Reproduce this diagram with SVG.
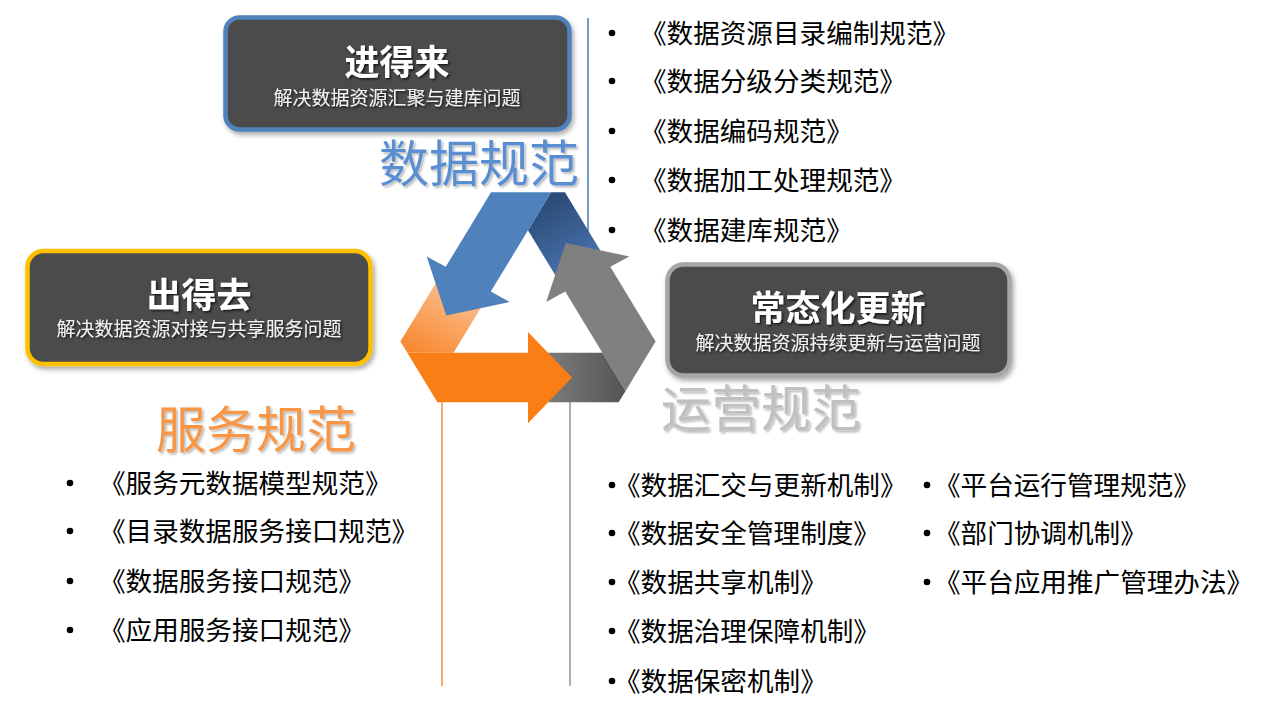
<svg xmlns="http://www.w3.org/2000/svg" width="1280" height="714" viewBox="0 0 1280 714">
  <defs>
    <style>
      .cjk { font-family: 'Noto Sans CJK SC', 'Noto Sans', sans-serif; }
      .box { fill: #4B4B4B; stroke-width: 4.5; }
      .title { font-size: 35px; font-weight: bold; fill: #FFFFFF; text-anchor: middle; }
      .sub { font-size: 19px; fill: #F2F2F2; text-anchor: middle; }
      .big { font-size: 50px; text-anchor: middle; }
      .item { font-size: 26.6px; fill: #000000; }
      .bullet { fill: #000000; }
    </style>
    <filter id="boxShadow" x="-10%" y="-15%" width="125%" height="140%">
      <feDropShadow dx="2" dy="3" stdDeviation="2.5" flood-color="#000" flood-opacity="0.35"/>
    </filter>
    <filter id="txtShadow" x="-10%" y="-30%" width="120%" height="160%">
      <feDropShadow dx="1.5" dy="1.5" stdDeviation="1" flood-color="#000" flood-opacity="0.7"/>
    </filter>
    <filter id="lblShadow" x="-10%" y="-30%" width="120%" height="160%">
      <feDropShadow dx="2" dy="2" stdDeviation="1.2" flood-color="#000" flood-opacity="0.25"/>
    </filter>
    <linearGradient id="gOrangeTail" gradientUnits="userSpaceOnUse" x1="-60" y1="-34" x2="-105" y2="45">
      <stop offset="0" stop-color="#FCC59A"/>
      <stop offset="1" stop-color="#F78A34"/>
    </linearGradient>
    <linearGradient id="gGrayTail" gradientUnits="userSpaceOnUse" x1="-60" y1="-34" x2="-105" y2="45">
      <stop offset="0" stop-color="#858585"/>
      <stop offset="1" stop-color="#575757"/>
    </linearGradient>
    <linearGradient id="gBlueTail" gradientUnits="userSpaceOnUse" x1="-60" y1="-34" x2="-105" y2="45">
      <stop offset="0" stop-color="#4B7AB7"/>
      <stop offset="1" stop-color="#2C4B76"/>
    </linearGradient>
    <polygon id="tail" points="-37.24,-21.5 -82.27,-47.5 -127.6,31 -120.7,43 -74.48,43"/>
    <polygon id="shaft" points="-120.7,43 0,43 0,21 44,69 0,117 0,95 -90.6,95"/>
  </defs>

  <rect x="0" y="0" width="1280" height="714" fill="#FFFFFF"/>

  <!-- connectors -->
  <g id="connectors" fill="none" stroke-width="1.6">
    <line x1="588" y1="18" x2="588" y2="245" stroke="#4F81BD"/>
    <line x1="442" y1="400" x2="442" y2="686" stroke="#F79646"/>
    <line x1="570" y1="398" x2="570" y2="686" stroke="#999999"/>
  </g>

  <!-- recycle triangle -->
  <g id="cycle" transform="translate(528,312) scale(1,0.95)">
    <g id="tails">
      <use href="#tail" fill="url(#gOrangeTail)"/>
      <g transform="rotate(-120)"><use href="#tail" fill="url(#gGrayTail)"/></g>
      <g transform="rotate(120)"><use href="#tail" fill="url(#gBlueTail)"/></g>
    </g>
    <g id="shafts">
      <use href="#shaft" fill="#FA7E16"/>
      <g transform="rotate(-120)"><use href="#shaft" fill="#808080"/></g>
      <g transform="rotate(120)"><use href="#shaft" fill="#4F81BD"/></g>
    </g>
  </g>

  <!-- nodes -->
  <g id="node-jindelai">
    <rect class="box" x="225.5" y="17.5" width="344" height="112" rx="14" stroke="#4F81BD" filter="url(#boxShadow)"/>
    <text class="cjk title" x="397" y="75" filter="url(#txtShadow)">进得来</text>
    <text class="cjk sub" x="397" y="105" filter="url(#txtShadow)">解决数据资源汇聚与建库问题</text>
  </g>
  <g id="node-chudequ">
    <rect class="box" x="27.5" y="251" width="343" height="113" rx="16" stroke="#FFC000" filter="url(#boxShadow)"/>
    <text class="cjk title" x="199" y="308" filter="url(#txtShadow)">出得去</text>
    <text class="cjk sub" x="199" y="336" filter="url(#txtShadow)">解决数据资源对接与共享服务问题</text>
  </g>
  <g id="node-changtai">
    <rect class="box" x="667.5" y="264.5" width="342" height="111" rx="16" stroke="#A6A6A6" filter="url(#boxShadow)"/>
    <text class="cjk title" x="838" y="321" filter="url(#txtShadow)">常态化更新</text>
    <text class="cjk sub" x="838" y="350" filter="url(#txtShadow)">解决数据资源持续更新与运营问题</text>
  </g>

  <!-- category labels -->
  <g id="label-data">
    <text class="cjk big" x="479" y="182" fill="#5A8ED2" filter="url(#lblShadow)">数据规范</text>
  </g>
  <g id="label-service">
    <text class="cjk big" x="256" y="448" fill="#F79646" filter="url(#lblShadow)">服务规范</text>
  </g>
  <g id="label-ops">
    <text class="cjk big" x="761" y="427" fill="#C0C0C0" filter="url(#lblShadow)">运营规范</text>
  </g>

  <!-- lists -->
  <g id="list-data">
    <circle class="bullet" cx="612" cy="33" r="3.3"/>
    <circle class="bullet" cx="612" cy="81" r="3.3"/>
    <circle class="bullet" cx="612" cy="131" r="3.3"/>
    <circle class="bullet" cx="612" cy="180" r="3.3"/>
    <circle class="bullet" cx="612" cy="230" r="3.3"/>
    <text class="cjk item" x="640" y="43">《数据资源目录编制规范》</text>
    <text class="cjk item" x="640" y="91">《数据分级分类规范》</text>
    <text class="cjk item" x="640" y="141">《数据编码规范》</text>
    <text class="cjk item" x="640" y="190">《数据加工处理规范》</text>
    <text class="cjk item" x="640" y="240">《数据建库规范》</text>
  </g>
  <g id="list-service">
    <circle class="bullet" cx="70" cy="483" r="3.3"/>
    <circle class="bullet" cx="70" cy="531" r="3.3"/>
    <circle class="bullet" cx="70" cy="581" r="3.3"/>
    <circle class="bullet" cx="70" cy="630" r="3.3"/>
    <text class="cjk item" x="99" y="493">《服务元数据模型规范》</text>
    <text class="cjk item" x="99" y="541">《目录数据服务接口规范》</text>
    <text class="cjk item" x="99" y="591">《数据服务接口规范》</text>
    <text class="cjk item" x="99" y="640">《应用服务接口规范》</text>
  </g>
  <g id="list-ops">
    <circle class="bullet" cx="612" cy="485" r="3.3"/>
    <circle class="bullet" cx="612" cy="533" r="3.3"/>
    <circle class="bullet" cx="612" cy="582" r="3.3"/>
    <circle class="bullet" cx="612" cy="631" r="3.3"/>
    <circle class="bullet" cx="612" cy="681" r="3.3"/>
    <text class="cjk item" x="614" y="495">《数据汇交与更新机制》</text>
    <text class="cjk item" x="614" y="543">《数据安全管理制度》</text>
    <text class="cjk item" x="614" y="592">《数据共享机制》</text>
    <text class="cjk item" x="614" y="641">《数据治理保障机制》</text>
    <text class="cjk item" x="614" y="691">《数据保密机制》</text>
    <circle class="bullet" cx="927" cy="485" r="3.3"/>
    <circle class="bullet" cx="927" cy="533" r="3.3"/>
    <circle class="bullet" cx="927" cy="582" r="3.3"/>
    <text class="cjk item" x="934" y="495">《平台运行管理规范》</text>
    <text class="cjk item" x="934" y="543">《部门协调机制》</text>
    <text class="cjk item" x="934" y="592">《平台应用推广管理办法》</text>
  </g>
</svg>
